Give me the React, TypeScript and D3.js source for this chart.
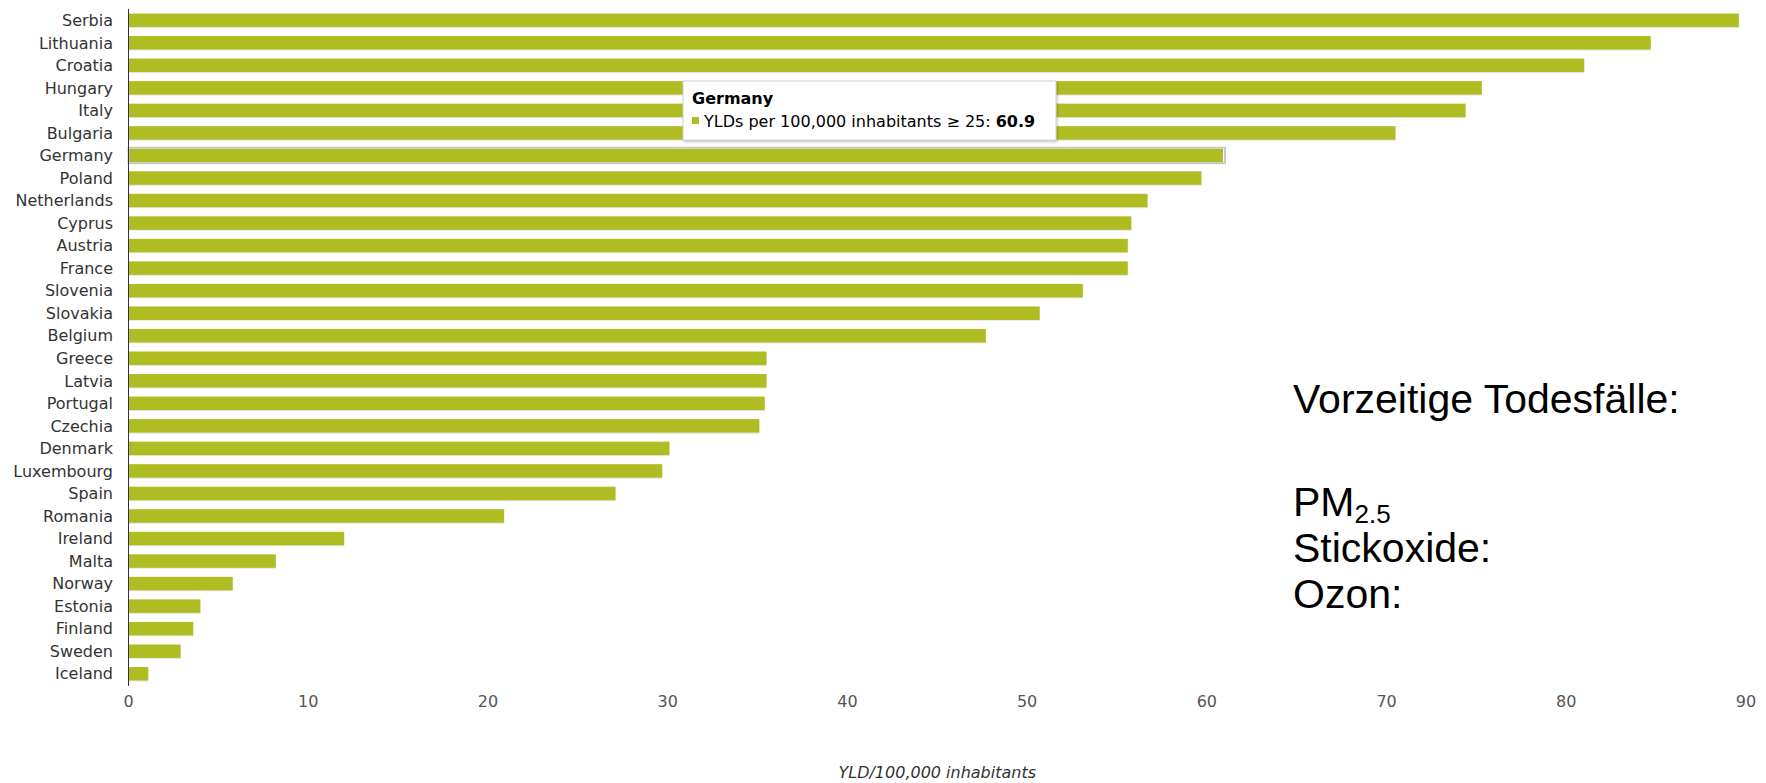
import React from "react";
import * as d3 from "d3";

const countries = [
  "Serbia", "Lithuania", "Croatia", "Hungary", "Italy", "Bulgaria", "Germany", "Poland",
  "Netherlands", "Cyprus", "Austria", "France", "Slovenia", "Slovakia", "Belgium", "Greece",
  "Latvia", "Portugal", "Czechia", "Denmark", "Luxembourg", "Spain", "Romania", "Ireland",
  "Malta", "Norway", "Estonia", "Finland", "Sweden", "Iceland",
];
const values = [
  89.6, 84.7, 81.0, 75.3, 74.4, 70.5, 60.9, 59.7,
  56.7, 55.8, 55.6, 55.6, 53.1, 50.7, 47.7, 35.5,
  35.5, 35.4, 35.1, 30.1, 29.7, 27.1, 20.9, 12.0,
  8.2, 5.8, 4.0, 3.6, 2.9, 1.1,
];
const xTicks = [0, 10, 20, 30, 40, 50, 60, 70, 80, 90];
const axisTitle = "YLD/100,000 inhabitants";
const highlighted = "Germany";
const tooltipLabel = "YLDs per 100,000 inhabitants ≥ 25: ";
const sideTitle = "Vorzeitige Todesfälle:";
const sideLines = ["Stickoxide:", "Ozon:"];

const W = 1766;
const H = 783;
const BAR = "#afbd22";
const FONT = "Verdana, 'DejaVu Sans', sans-serif";

export default function App() {
  const x = d3.scaleLinear().domain([0, 90]).range([128.5, 1746]);
  const y = d3.scaleBand<string>().domain(countries).range([9, 685]).paddingInner(0.4).paddingOuter(0.2);
  const bw = y.bandwidth();
  const hiIdx = countries.indexOf(highlighted);
  const hiVal = values[hiIdx];

  return (
    <svg width={W} height={H} style={{ position: "absolute", left: 0, top: 0, background: "#fff" }}
      fontFamily={FONT}>
      <defs>
        <filter id="sh" x="-5%" y="-20%" width="110%" height="160%">
          <feDropShadow dx="1" dy="1.5" stdDeviation="1.2" floodColor="#000" floodOpacity="0.25" />
        </filter>
      </defs>
      {countries.map((c, i) => (
        <g key={c}>
          <rect x={x(0)} y={(y(c) as number) + 1} width={x(values[i]) - x(0)} height={bw}
            fill="#d9d9d9" opacity={0.6} />
          <rect x={x(0)} y={y(c)} width={x(values[i]) - x(0)} height={bw} fill={BAR} />
        </g>
      ))}
      <rect x={x(0)} y={(y(highlighted) as number) - 1} width={x(hiVal) - x(0) + 2} height={bw + 2}
        fill="none" stroke="#c8c8c8" strokeWidth={2} />
      {countries.map((c) => (
        <text key={c} x={113} y={(y(c) as number) + bw / 2} dy="0.36em" textAnchor="end"
          fontSize={16} fill="#333">{c}</text>
      ))}
      <line x1={x(0)} x2={x(0)} y1={9} y2={686} stroke="#333" strokeWidth={1} />
      {xTicks.map((t) => (
        <text key={t} x={x(t)} y={707} textAnchor="middle" fontSize={16} fill="#555">{t}</text>
      ))}
      <text x={(x(0) + x(90)) / 2} y={778} textAnchor="middle" fontSize={16} fontStyle="italic"
        fill="#333">{axisTitle}</text>
      <g filter="url(#sh)">
        <rect x={683} y={81} width={373} height={59} fill="#fff" stroke="#cfcfcf" strokeWidth={1} />
      </g>
      <text x={692} y={104} fontSize={16} fontWeight="bold" fill="#000">{highlighted}</text>
      <rect x={692} y={117} width={7} height={7} fill={BAR} />
      <text x={704} y={127} fontSize={16} fill="#000">
        {tooltipLabel}
        <tspan fontWeight="bold">{hiVal.toFixed(1)}</tspan>
      </text>
      <g fontFamily="'Liberation Sans', Arial, sans-serif" fontSize={41} fill="#000">
        <text x={1293} y={413}>{sideTitle}</text>
        <text x={1293} y={516}>PM<tspan fontSize={26} dy={7}>2.5</tspan></text>
        {sideLines.map((l, i) => (
          <text key={l} x={1293} y={562 + i * 46}>{l}</text>
        ))}
      </g>
    </svg>
  );
}
